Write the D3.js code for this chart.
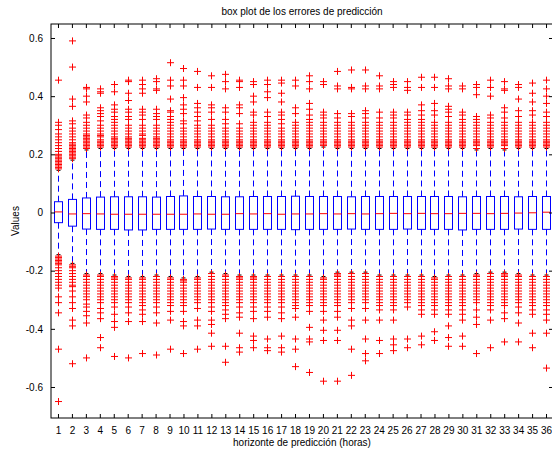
<!DOCTYPE html>
<html>
<head>
<meta charset="utf-8">
<script src="https://cdn.jsdelivr.net/npm/d3@7"></script>
<style>
  html, body { margin: 0; padding: 0; background: #fff; overflow: hidden; }
  text { font-family: "Liberation Sans", Arial, Helvetica, sans-serif; }
</style>
</head>
<body>
<svg id="chart" width="552" height="453"></svg>
<script>
// ---------- data ----------
const categories = d3.range(1, 37).map(String);
const yTicks = [-0.6, -0.4, -0.2, 0, 0.2, 0.4, 0.6];

const medians = [0.002, -0.005, -0.004, -0.005, -0.006, -0.006, -0.006, -0.006, -0.006, -0.006, -0.005, -0.006,
  -0.006, -0.004, -0.005, -0.004, -0.006, -0.005, -0.005, -0.004, -0.005, -0.004, -0.005, -0.004,
  -0.003, -0.004, -0.003, -0.004, -0.004, -0.003, -0.003, -0.004, -0.003, -0.002, -0.001, 0.001];
const q3 = [0.037, 0.045, 0.050, 0.053, 0.054, 0.054, 0.054, 0.053, 0.055, 0.057, 0.055, 0.055,
  0.054, 0.054, 0.055, 0.055, 0.055, 0.056, 0.055, 0.055, 0.055, 0.054, 0.055, 0.055,
  0.055, 0.055, 0.055, 0.055, 0.055, 0.054, 0.055, 0.055, 0.055, 0.054, 0.055, 0.055];
const q1 = [-0.035, -0.047, -0.057, -0.058, -0.058, -0.060, -0.060, -0.058, -0.058, -0.058, -0.058, -0.057,
  -0.058, -0.058, -0.058, -0.058, -0.058, -0.059, -0.058, -0.058, -0.058, -0.057, -0.058, -0.058,
  -0.058, -0.057, -0.058, -0.058, -0.058, -0.060, -0.058, -0.058, -0.058, -0.057, -0.058, -0.058];
const whiskerHi = [0.145, 0.18, 0.215, 0.22, 0.22, 0.22, 0.22, 0.22, 0.22, 0.22, 0.22, 0.22,
  0.22, 0.22, 0.22, 0.22, 0.22, 0.22, 0.22, 0.225, 0.22, 0.22, 0.22, 0.22,
  0.22, 0.22, 0.22, 0.22, 0.22, 0.22, 0.215, 0.22, 0.215, 0.22, 0.22, 0.22];
const whiskerLo = [-0.145, -0.175, -0.21, -0.21, -0.215, -0.22, -0.22, -0.215, -0.22, -0.225, -0.22, -0.205,
  -0.21, -0.215, -0.215, -0.215, -0.215, -0.215, -0.215, -0.22, -0.205, -0.205, -0.205, -0.215,
  -0.215, -0.215, -0.215, -0.22, -0.215, -0.215, -0.21, -0.205, -0.205, -0.21, -0.215, -0.215];

const upperOutliers = [
  [0.455, 0.31, 0.30, 0.285, 0.27, 0.26, 0.25, 0.24, 0.23, 0.22, 0.21, 0.20, 0.195, 0.19, 0.185, 0.18, 0.175, 0.17, 0.165, 0.16, 0.155, 0.15],
  [0.59, 0.50, 0.39, 0.365, 0.315, 0.305, 0.29, 0.28, 0.27, 0.26, 0.25, 0.24, 0.235, 0.23, 0.225, 0.22, 0.215, 0.21, 0.205, 0.20, 0.195, 0.19, 0.185],
  [0.43, 0.425, 0.40, 0.38, 0.335, 0.325, 0.31, 0.30, 0.29, 0.28, 0.27, 0.265, 0.26, 0.255, 0.25, 0.245, 0.24, 0.235, 0.23, 0.225, 0.22],
  [0.425, 0.415, 0.41, 0.36, 0.35, 0.34, 0.33, 0.315, 0.30, 0.29, 0.28, 0.27, 0.265, 0.26, 0.25, 0.245, 0.24, 0.235, 0.23, 0.225],
  [0.44, 0.415, 0.37, 0.355, 0.345, 0.33, 0.32, 0.31, 0.30, 0.29, 0.28, 0.27, 0.26, 0.255, 0.25, 0.245, 0.24, 0.235, 0.23, 0.225],
  [0.455, 0.45, 0.41, 0.385, 0.355, 0.345, 0.33, 0.32, 0.30, 0.29, 0.28, 0.27, 0.26, 0.255, 0.25, 0.245, 0.24, 0.235, 0.23, 0.225],
  [0.455, 0.44, 0.425, 0.41, 0.355, 0.345, 0.335, 0.32, 0.30, 0.29, 0.28, 0.27, 0.265, 0.255, 0.25, 0.245, 0.24, 0.235, 0.23, 0.225],
  [0.46, 0.45, 0.425, 0.42, 0.355, 0.34, 0.33, 0.32, 0.30, 0.29, 0.28, 0.27, 0.26, 0.255, 0.25, 0.245, 0.24, 0.235, 0.23, 0.225],
  [0.515, 0.455, 0.435, 0.39, 0.35, 0.345, 0.33, 0.32, 0.31, 0.30, 0.29, 0.28, 0.27, 0.26, 0.25, 0.245, 0.24, 0.235, 0.23, 0.225],
  [0.495, 0.455, 0.435, 0.395, 0.37, 0.355, 0.34, 0.315, 0.305, 0.29, 0.28, 0.27, 0.26, 0.25, 0.245, 0.24, 0.235, 0.23, 0.225],
  [0.485, 0.43, 0.375, 0.36, 0.345, 0.33, 0.315, 0.30, 0.29, 0.28, 0.27, 0.26, 0.25, 0.245, 0.24, 0.235, 0.23, 0.225],
  [0.47, 0.43, 0.37, 0.36, 0.345, 0.32, 0.30, 0.29, 0.28, 0.27, 0.26, 0.25, 0.245, 0.24, 0.235, 0.23, 0.225],
  [0.475, 0.45, 0.425, 0.36, 0.345, 0.32, 0.305, 0.29, 0.28, 0.27, 0.26, 0.25, 0.245, 0.24, 0.235, 0.23, 0.225],
  [0.455, 0.45, 0.43, 0.37, 0.36, 0.34, 0.305, 0.29, 0.28, 0.27, 0.26, 0.25, 0.245, 0.24, 0.235, 0.23, 0.225],
  [0.45, 0.44, 0.40, 0.38, 0.345, 0.335, 0.31, 0.30, 0.29, 0.28, 0.27, 0.26, 0.25, 0.245, 0.24, 0.235, 0.23, 0.225],
  [0.455, 0.44, 0.415, 0.395, 0.345, 0.33, 0.31, 0.30, 0.29, 0.28, 0.27, 0.26, 0.25, 0.245, 0.24, 0.235, 0.23, 0.225],
  [0.455, 0.445, 0.41, 0.38, 0.345, 0.335, 0.32, 0.305, 0.29, 0.28, 0.27, 0.26, 0.25, 0.245, 0.24, 0.235, 0.23, 0.225],
  [0.455, 0.435, 0.36, 0.34, 0.31, 0.30, 0.29, 0.28, 0.27, 0.26, 0.25, 0.245, 0.24, 0.235, 0.23, 0.225],
  [0.47, 0.45, 0.425, 0.375, 0.355, 0.335, 0.32, 0.31, 0.30, 0.29, 0.28, 0.27, 0.26, 0.25, 0.245, 0.24, 0.235, 0.23, 0.225],
  [0.45, 0.44, 0.345, 0.335, 0.325, 0.31, 0.30, 0.29, 0.28, 0.27, 0.26, 0.25, 0.245, 0.24, 0.235, 0.23],
  [0.485, 0.435, 0.425, 0.34, 0.325, 0.31, 0.30, 0.29, 0.28, 0.27, 0.26, 0.25, 0.245, 0.24, 0.235, 0.23, 0.225],
  [0.49, 0.43, 0.425, 0.34, 0.33, 0.31, 0.30, 0.29, 0.28, 0.27, 0.26, 0.25, 0.245, 0.24, 0.235, 0.23, 0.225],
  [0.49, 0.435, 0.425, 0.35, 0.34, 0.325, 0.31, 0.30, 0.29, 0.28, 0.27, 0.26, 0.25, 0.245, 0.24, 0.235, 0.23, 0.225],
  [0.47, 0.435, 0.425, 0.345, 0.325, 0.31, 0.30, 0.29, 0.28, 0.27, 0.26, 0.25, 0.245, 0.24, 0.235, 0.23, 0.225],
  [0.45, 0.44, 0.43, 0.345, 0.335, 0.325, 0.31, 0.30, 0.29, 0.28, 0.27, 0.26, 0.25, 0.245, 0.24, 0.235, 0.23, 0.225],
  [0.45, 0.43, 0.42, 0.345, 0.335, 0.32, 0.31, 0.30, 0.29, 0.28, 0.27, 0.26, 0.25, 0.245, 0.24, 0.235, 0.23, 0.225],
  [0.465, 0.43, 0.37, 0.35, 0.335, 0.32, 0.31, 0.30, 0.29, 0.28, 0.27, 0.26, 0.25, 0.245, 0.24, 0.235, 0.23, 0.225],
  [0.465, 0.43, 0.375, 0.35, 0.335, 0.31, 0.30, 0.29, 0.28, 0.27, 0.26, 0.25, 0.245, 0.24, 0.235, 0.23, 0.225],
  [0.46, 0.435, 0.425, 0.365, 0.355, 0.345, 0.33, 0.31, 0.30, 0.29, 0.28, 0.27, 0.26, 0.25, 0.245, 0.24, 0.235, 0.23, 0.225],
  [0.435, 0.425, 0.345, 0.335, 0.32, 0.31, 0.30, 0.29, 0.28, 0.27, 0.26, 0.25, 0.245, 0.24, 0.235, 0.23, 0.225],
  [0.44, 0.43, 0.405, 0.33, 0.32, 0.31, 0.30, 0.29, 0.28, 0.27, 0.26, 0.25, 0.245, 0.24, 0.235, 0.23, 0.22],
  [0.455, 0.43, 0.40, 0.335, 0.325, 0.31, 0.30, 0.29, 0.28, 0.27, 0.26, 0.25, 0.245, 0.24, 0.235, 0.23, 0.225],
  [0.45, 0.425, 0.42, 0.36, 0.345, 0.325, 0.31, 0.30, 0.29, 0.28, 0.27, 0.26, 0.25, 0.245, 0.24, 0.235, 0.23, 0.22],
  [0.44, 0.43, 0.39, 0.35, 0.33, 0.31, 0.30, 0.29, 0.28, 0.27, 0.26, 0.25, 0.245, 0.24, 0.235, 0.23, 0.225],
  [0.445, 0.41, 0.38, 0.35, 0.335, 0.31, 0.30, 0.29, 0.28, 0.27, 0.26, 0.25, 0.245, 0.24, 0.235, 0.23, 0.225],
  [0.455, 0.425, 0.40, 0.375, 0.345, 0.33, 0.31, 0.30, 0.29, 0.28, 0.27, 0.26, 0.25, 0.245, 0.24, 0.235, 0.23, 0.225]
];

const lowerOutliers = [
  [-0.15, -0.155, -0.16, -0.165, -0.17, -0.175, -0.18, -0.19, -0.20, -0.21, -0.22, -0.23, -0.24, -0.25, -0.26, -0.29, -0.31, -0.345, -0.47, -0.65],
  [-0.18, -0.185, -0.19, -0.20, -0.21, -0.22, -0.23, -0.24, -0.25, -0.255, -0.27, -0.29, -0.31, -0.33, -0.37, -0.39, -0.52],
  [-0.215, -0.22, -0.23, -0.24, -0.25, -0.26, -0.27, -0.28, -0.29, -0.30, -0.315, -0.325, -0.34, -0.355, -0.38, -0.50],
  [-0.215, -0.22, -0.23, -0.24, -0.25, -0.26, -0.27, -0.28, -0.29, -0.30, -0.31, -0.33, -0.345, -0.365, -0.43, -0.465],
  [-0.22, -0.225, -0.23, -0.24, -0.25, -0.26, -0.27, -0.28, -0.29, -0.30, -0.31, -0.325, -0.35, -0.375, -0.395, -0.495],
  [-0.225, -0.23, -0.24, -0.25, -0.26, -0.27, -0.28, -0.29, -0.30, -0.31, -0.325, -0.345, -0.375, -0.50],
  [-0.225, -0.23, -0.24, -0.25, -0.26, -0.27, -0.28, -0.29, -0.30, -0.31, -0.32, -0.335, -0.35, -0.375, -0.485],
  [-0.22, -0.23, -0.24, -0.25, -0.26, -0.27, -0.28, -0.29, -0.30, -0.31, -0.325, -0.345, -0.38, -0.49],
  [-0.225, -0.23, -0.24, -0.25, -0.26, -0.27, -0.28, -0.29, -0.30, -0.31, -0.32, -0.34, -0.37, -0.47],
  [-0.23, -0.235, -0.24, -0.25, -0.26, -0.27, -0.28, -0.29, -0.30, -0.31, -0.32, -0.34, -0.375, -0.39, -0.485],
  [-0.225, -0.23, -0.24, -0.25, -0.26, -0.27, -0.28, -0.29, -0.30, -0.31, -0.33, -0.37, -0.39, -0.47],
  [-0.21, -0.22, -0.23, -0.24, -0.25, -0.26, -0.27, -0.28, -0.29, -0.30, -0.31, -0.325, -0.34, -0.37, -0.385, -0.415, -0.46],
  [-0.215, -0.22, -0.23, -0.24, -0.25, -0.26, -0.27, -0.28, -0.29, -0.30, -0.31, -0.32, -0.335, -0.35, -0.365, -0.46, -0.515],
  [-0.22, -0.225, -0.23, -0.24, -0.25, -0.26, -0.27, -0.28, -0.29, -0.30, -0.31, -0.325, -0.345, -0.36, -0.415, -0.465, -0.48],
  [-0.22, -0.225, -0.23, -0.24, -0.25, -0.26, -0.27, -0.28, -0.29, -0.30, -0.31, -0.325, -0.34, -0.365, -0.425, -0.44, -0.465],
  [-0.22, -0.23, -0.24, -0.25, -0.26, -0.27, -0.28, -0.29, -0.30, -0.31, -0.325, -0.34, -0.36, -0.435, -0.465, -0.475],
  [-0.22, -0.23, -0.24, -0.25, -0.26, -0.27, -0.28, -0.29, -0.30, -0.31, -0.325, -0.345, -0.365, -0.425, -0.465, -0.48],
  [-0.22, -0.23, -0.24, -0.25, -0.26, -0.27, -0.28, -0.29, -0.30, -0.31, -0.32, -0.33, -0.36, -0.435, -0.47, -0.53],
  [-0.22, -0.23, -0.24, -0.25, -0.26, -0.27, -0.28, -0.29, -0.30, -0.31, -0.32, -0.34, -0.395, -0.435, -0.445, -0.55],
  [-0.225, -0.23, -0.24, -0.25, -0.26, -0.27, -0.28, -0.29, -0.30, -0.31, -0.32, -0.34, -0.37, -0.405, -0.44, -0.58],
  [-0.21, -0.215, -0.22, -0.23, -0.24, -0.25, -0.26, -0.27, -0.28, -0.29, -0.30, -0.31, -0.32, -0.34, -0.36, -0.405, -0.44, -0.58],
  [-0.21, -0.22, -0.23, -0.24, -0.25, -0.26, -0.27, -0.28, -0.29, -0.30, -0.31, -0.33, -0.37, -0.39, -0.47, -0.56],
  [-0.21, -0.22, -0.23, -0.24, -0.25, -0.26, -0.27, -0.28, -0.29, -0.30, -0.31, -0.33, -0.37, -0.435, -0.485, -0.51],
  [-0.22, -0.23, -0.24, -0.25, -0.26, -0.27, -0.28, -0.29, -0.30, -0.31, -0.32, -0.335, -0.37, -0.44, -0.485],
  [-0.22, -0.23, -0.24, -0.25, -0.26, -0.27, -0.28, -0.29, -0.30, -0.31, -0.32, -0.335, -0.37, -0.435, -0.455, -0.475],
  [-0.22, -0.23, -0.24, -0.25, -0.26, -0.27, -0.28, -0.29, -0.30, -0.31, -0.325, -0.435, -0.465],
  [-0.22, -0.23, -0.24, -0.25, -0.26, -0.27, -0.28, -0.29, -0.30, -0.31, -0.32, -0.335, -0.35, -0.425, -0.455],
  [-0.225, -0.23, -0.24, -0.25, -0.26, -0.27, -0.28, -0.29, -0.30, -0.31, -0.32, -0.335, -0.35, -0.41, -0.44],
  [-0.22, -0.23, -0.24, -0.25, -0.26, -0.27, -0.28, -0.29, -0.30, -0.31, -0.32, -0.335, -0.35, -0.39, -0.43, -0.46],
  [-0.22, -0.23, -0.24, -0.25, -0.26, -0.27, -0.28, -0.29, -0.30, -0.31, -0.32, -0.335, -0.35, -0.37, -0.425, -0.46],
  [-0.215, -0.22, -0.23, -0.24, -0.25, -0.26, -0.27, -0.28, -0.29, -0.30, -0.31, -0.335, -0.36, -0.385, -0.485],
  [-0.21, -0.22, -0.23, -0.24, -0.25, -0.26, -0.27, -0.28, -0.29, -0.30, -0.31, -0.32, -0.335, -0.37, -0.465],
  [-0.21, -0.215, -0.22, -0.23, -0.24, -0.25, -0.26, -0.27, -0.28, -0.29, -0.30, -0.31, -0.32, -0.345, -0.365, -0.445],
  [-0.215, -0.22, -0.23, -0.24, -0.25, -0.26, -0.27, -0.28, -0.29, -0.30, -0.31, -0.325, -0.345, -0.38, -0.445],
  [-0.22, -0.23, -0.24, -0.25, -0.26, -0.27, -0.28, -0.29, -0.30, -0.31, -0.32, -0.335, -0.35, -0.415, -0.465],
  [-0.22, -0.23, -0.24, -0.25, -0.26, -0.27, -0.28, -0.29, -0.30, -0.31, -0.32, -0.335, -0.35, -0.37, -0.415, -0.535]
];

const titleText = "box plot de los errores de predicción";
const xLabelText = "horizonte de predicción (horas)";
const yLabelText = "Values";

// ---------- layout ----------
const svg = d3.select("#chart");
const plotL = 51, plotR = 553, plotT = 24, plotB = 418;

const x = d3.scaleLinear().domain([0.5, 36.5]).range([plotL, plotR]);
const y = d3.scaleLinear().domain([-0.7066, 0.6481]).range([plotB, plotT]);

const boxHalf = 4;     // px
const capHalf = 2;     // px
const plusHalf = 3.5;  // px

const boxes = categories.map((c, i) => ({
  pos: i + 1, label: c,
  med: medians[i], q1: q1[i], q3: q3[i],
  lo: whiskerLo[i], hi: whiskerHi[i],
  outs: upperOutliers[i].concat(lowerOutliers[i])
}));

const g = svg.append("g");

g.selectAll(".bx").data(boxes).join("g").attr("class", "bx").each(function(d) {
  const s = d3.select(this);
  const cx = Math.round(x(d.pos)) + 0.5;
  s.append("line").attr("x1", cx).attr("x2", cx)
    .attr("y1", y(d.q3)).attr("y2", y(d.hi))
    .attr("stroke", "#0000ff").attr("stroke-width", 1).attr("stroke-dasharray", "6,4");
  s.append("line").attr("x1", cx).attr("x2", cx)
    .attr("y1", y(d.q1)).attr("y2", y(d.lo))
    .attr("stroke", "#0000ff").attr("stroke-width", 1).attr("stroke-dasharray", "6,4");
  s.append("line").attr("x1", cx - capHalf).attr("x2", cx + capHalf)
    .attr("y1", y(d.hi)).attr("y2", y(d.hi)).attr("stroke", "#000").attr("stroke-width", 1);
  s.append("line").attr("x1", cx - capHalf).attr("x2", cx + capHalf)
    .attr("y1", y(d.lo)).attr("y2", y(d.lo)).attr("stroke", "#000").attr("stroke-width", 1);
  s.append("rect").attr("x", cx - boxHalf).attr("width", boxHalf * 2)
    .attr("y", y(d.q3)).attr("height", y(d.q1) - y(d.q3))
    .attr("fill", "none").attr("stroke", "#0000ff").attr("stroke-width", 1);
  s.append("line").attr("x1", cx - boxHalf).attr("x2", cx + boxHalf)
    .attr("y1", y(d.med)).attr("y2", y(d.med))
    .attr("stroke", "#ff0000").attr("stroke-width", 1);
  s.selectAll("path").data(d.outs).join("path")
    .attr("d", v => {
      const py = y(v);
      return `M${cx - plusHalf},${py}h${plusHalf * 2}M${cx},${py - plusHalf}v${plusHalf * 2}`;
    })
    .attr("stroke", "#ff0000").attr("stroke-width", 1).attr("fill", "none");
});

const fontSize = 10;
const ff = "Liberation Sans, Arial, sans-serif";
const axB = d3.axisBottom(x).tickValues(boxes.map(d => d.pos)).tickFormat((d, i) => categories[i])
  .tickSizeInner(-4).tickSizeOuter(0).tickPadding(9);
svg.append("g").attr("transform", `translate(0,${plotB})`).call(axB)
  .call(a => a.select(".domain").remove())
  .call(a => a.selectAll("text").attr("font-size", fontSize).attr("fill", "#000").attr("font-family", ff));
const axT = d3.axisTop(x).tickValues(boxes.map(d => d.pos)).tickFormat("")
  .tickSizeInner(-4).tickSizeOuter(0);
svg.append("g").attr("transform", `translate(0,${plotT})`).call(axT)
  .call(a => a.select(".domain").remove());
const axL = d3.axisLeft(y).tickValues(yTicks).tickFormat(d => d === 0 ? "0" : d3.format(".1f")(d).replace("\u2212", "-"))
  .tickSizeInner(-4).tickSizeOuter(0).tickPadding(8);
svg.append("g").attr("transform", `translate(${plotL},0)`).call(axL)
  .call(a => a.select(".domain").remove())
  .call(a => a.selectAll("text").attr("font-size", fontSize).attr("fill", "#000").attr("font-family", ff));
const axR = d3.axisRight(y).tickValues(yTicks).tickFormat("")
  .tickSizeInner(-4).tickSizeOuter(0);
svg.append("g").attr("transform", `translate(${plotR},0)`).call(axR)
  .call(a => a.select(".domain").remove());

svg.selectAll(".tick line").attr("stroke", "#000");

svg.append("rect").attr("x", plotL).attr("y", plotT)
  .attr("width", plotR - plotL).attr("height", plotB - plotT)
  .attr("fill", "none").attr("stroke", "#000").attr("stroke-width", 1);

svg.append("text").attr("x", (plotL + plotR) / 2).attr("y", 15)
  .attr("text-anchor", "middle").attr("font-size", fontSize).text(titleText);
svg.append("text").attr("x", (plotL + plotR) / 2).attr("y", 446)
  .attr("text-anchor", "middle").attr("font-size", fontSize).text(xLabelText);
svg.append("text").attr("transform", `translate(19,${(plotT + plotB) / 2}) rotate(-90)`)
  .attr("text-anchor", "middle").attr("font-size", fontSize).text(yLabelText);
</script>
</body>
</html>
